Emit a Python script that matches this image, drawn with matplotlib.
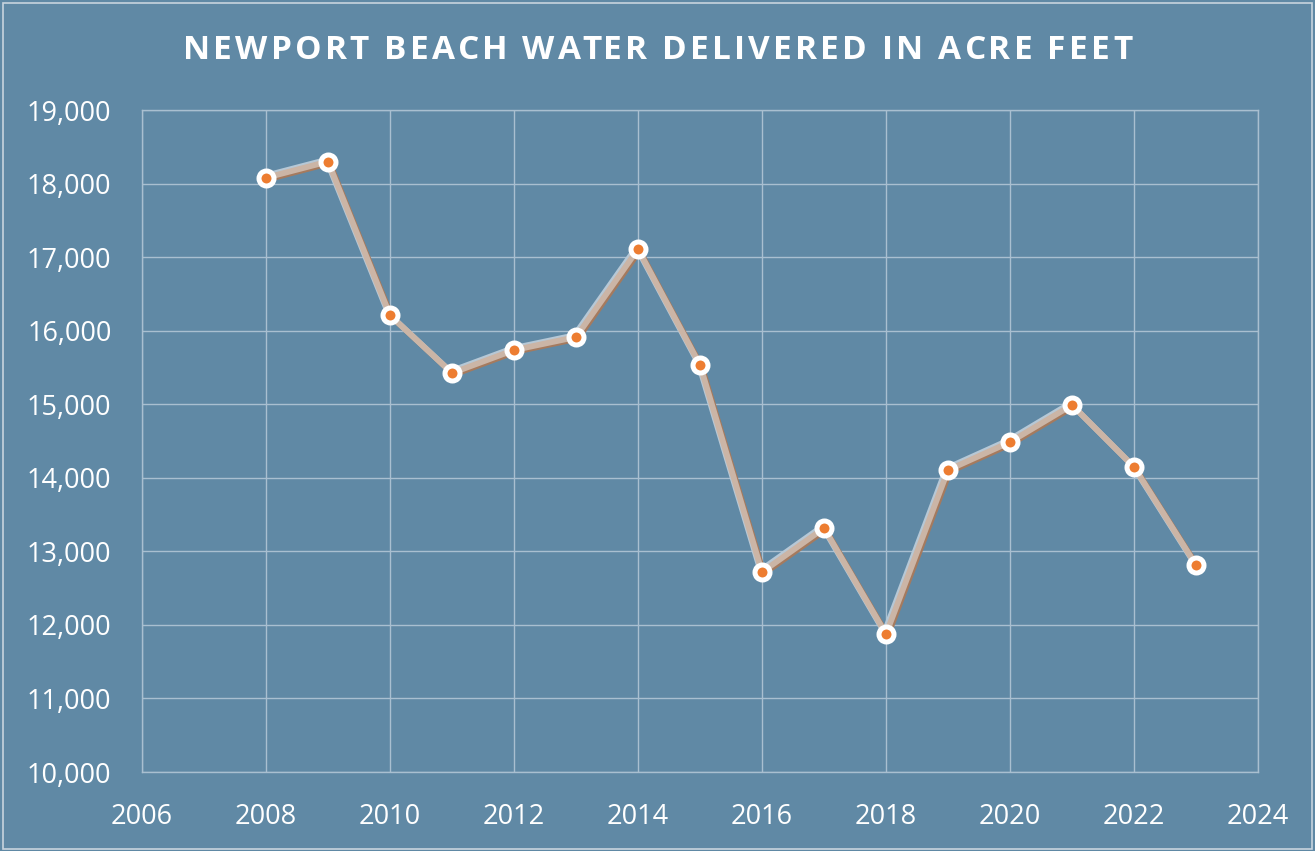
import matplotlib
matplotlib.use("Agg")
import matplotlib.pyplot as plt
import matplotlib.patheffects as pe
from matplotlib.patches import Rectangle
from matplotlib.ticker import FuncFormatter

years = [2008, 2009, 2010, 2011, 2012, 2013, 2014, 2015, 2016, 2017, 2018, 2019, 2020, 2021, 2022, 2023]
acre_feet = [18080, 18300, 16210, 15425, 15737, 15914, 17110, 15533, 12719, 13317, 11876, 14106, 14487, 14990, 14147, 12814]
title = "NEWPORT BEACH WATER DELIVERED IN ACRE FEET"

BG = "#6089a5"
plt.rcParams['font.family'] = ['Open Sans', 'DejaVu Sans']

fig = plt.figure(figsize=(13.15, 8.51), dpi=100, facecolor=BG)
fig.patches.append(Rectangle((0.002, 0.002), 0.996, 0.994, transform=fig.transFigure,
                             fill=False, edgecolor="#c8d4de", linewidth=1.2))
ax = fig.add_axes([0.108, 0.0928, 0.8487, 0.7779])
ax.set_facecolor(BG)

ax.plot(years, acre_feet, color="#cbb5a6", linewidth=4.2, solid_joinstyle="miter", zorder=3,
        path_effects=[
            pe.Stroke(offset=(1.2, -1.2), linewidth=4.2, foreground="#a57a5e"),
            pe.Stroke(offset=(-1.2, 1.2), linewidth=4.2, foreground="#b6c8d6"),
            pe.Normal()])
ax.plot(years, acre_feet, linestyle="none", marker="o", markersize=10.8,
        markerfacecolor="#ed7d31", markeredgecolor="white", markeredgewidth=3.6, zorder=4)

ax.set_xlim(2006, 2024)
ax.set_ylim(10000, 19000)
ax.set_xticks(range(2006, 2025, 2))
ax.set_yticks(range(10000, 19001, 1000))
ax.yaxis.set_major_formatter(FuncFormatter(lambda v, p: f"{int(v):,}"))
ax.grid(True, color="#a9bfd0", linewidth=1.0)
ax.set_axisbelow(True)
for s in ax.spines.values():
    s.set_color("#a9bfd0")
    s.set_linewidth(1.0)
ax.tick_params(length=0, colors="white", labelsize=19.5)
ax.tick_params(axis="x", pad=22)
ax.tick_params(axis="y", pad=22)

# Title with letter spacing (tracking), placed character by character
renderer = fig.canvas.get_renderer()
fs = 24
track = 3.2  # px between letters
tmp = fig.text(0, 0, "", fontsize=fs, fontweight="bold")
def width_of(s):
    if not s:
        return 0.0
    tmp.set_text(s)
    return tmp.get_window_extent(renderer).width
full_w = width_of(title) + track * (len(title) - 1)
tmp.remove()
W = fig.get_figwidth() * fig.dpi
x0 = (W - full_w) / 2
for i, ch in enumerate(title):
    tmp2 = fig.text(0, 0, "", fontsize=fs, fontweight="bold")
    tmp2.set_text(title[:i] + "|") if False else None
    tmp2.remove()
prefix_tmp = fig.text(0, 0, "", fontsize=fs, fontweight="bold")
positions = []
for i in range(len(title)):
    if i == 0:
        positions.append(0.0)
    else:
        prefix_tmp.set_text(title[:i] + "I")
        wI = prefix_tmp.get_window_extent(renderer).width
        prefix_tmp.set_text("I")
        wi = prefix_tmp.get_window_extent(renderer).width
        positions.append(wI - wi)
prefix_tmp.remove()
for i, ch in enumerate(title):
    if ch == " ":
        continue
    fig.text((x0 + positions[i] + i * track) / W, 0.941, ch, ha="left", va="center",
             color="white", fontsize=fs, fontweight="bold")

fig.savefig("out.png", dpi=100, facecolor=BG)
